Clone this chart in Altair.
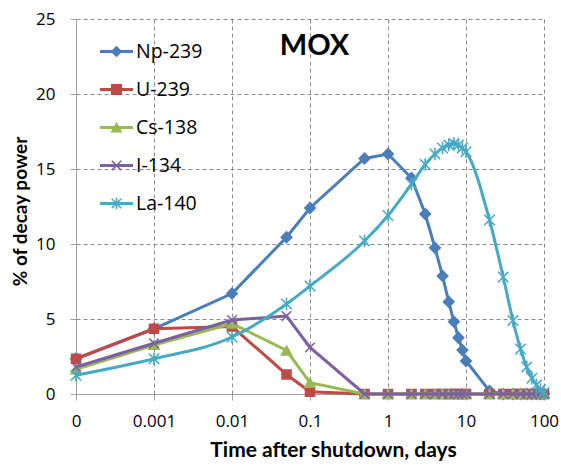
import altair as alt
import pandas as pd

# Time after shutdown (days); "0" is drawn at the left end of the log axis
TIMES = [0, 0.001, 0.01, 0.05, 0.1, 0.5, 1, 2, 3, 4, 5, 6, 7, 8, 9, 10,
         20, 30, 40, 50, 60, 70, 80, 90, 100]

NP239 = [2.35, 4.35, 6.7, 10.45, 12.4, 15.7, 16.0, 14.4, 12.0, 9.75, 7.87, 6.15,
         4.82, 3.75, 2.93, 2.2, 0.2, 0, 0, 0, 0, 0, 0, 0, 0]
U239 = [2.35, 4.35, 4.5, 1.3, 0.15, 0, 0, 0, 0, 0, 0, 0, 0, 0, 0, 0,
        0, 0, 0, 0, 0, 0, 0, 0, 0]
CS138 = [1.65, 3.27, 4.7, 2.9, 0.75, 0, 0, 0, 0, 0, 0, 0, 0, 0, 0, 0,
         0, 0, 0, 0, 0, 0, 0, 0, 0]
I134 = [1.8, 3.38, 4.93, 5.2, 3.1, 0, 0, 0, 0, 0, 0, 0, 0, 0, 0, 0,
        0, 0, 0, 0, 0, 0, 0, 0, 0]
LA140 = [1.25, 2.35, 3.8, 6.0, 7.2, 10.2, 11.9, 14.0, 15.3, 16.0, 16.4, 16.6,
         16.7, 16.6, 16.4, 16.15, 11.6, 7.8, 4.9, 3.0, 1.8, 1.05, 0.6, 0.3, 0.1]

SERIES = ["Np-239", "U-239", "Cs-138", "I-134", "La-140"]
VALUES = [NP239, U239, CS138, I134, LA140]
COLORS = ["#4A7EBB", "#BE4B48", "#98B954", "#7D60A0", "#46AAC5"]
SHAPES = ["diamond", "square", "triangle-up",
          "M-1,-1L1,1M-1,1L1,-1",
          "M-1,-1L1,1M-1,1L1,-1M0,-1.2L0,1.2"]
SIZES = [110, 80, 100, 90, 110]
INTERP = ["linear", "linear", "linear", "linear", "monotone"]

X_TICKS = [0.0001, 0.001, 0.01, 0.1, 1, 10, 100]
Y_TICKS = [0, 5, 10, 15, 20, 25]

FONT = "Open Sans"
TFONT = "Lato"

rows = []
for name, vals in zip(SERIES, VALUES):
    for t, v in zip(TIMES, vals):
        rows.append({"series": name, "t": t, "v": v})
df = pd.DataFrame(rows)

base = alt.Chart(df).transform_calculate(
    tp="max(datum.t, 0.0001)"
)

xenc = alt.X(
    "tp:Q",
    scale=alt.Scale(type="log", domain=[0.0001, 100], nice=False),
    axis=alt.Axis(
        values=X_TICKS,
        labelExpr="datum.value <= 0.0001 ? '0' : toString(datum.value)",
        title="Time after shutdown, days",
        grid=True,
        gridDash=[4, 3],
        gridColor="#8c8c8c",
        domainColor="#a0a0a0",
        tickColor="#a0a0a0",
        tickSize=6,
        labelFontSize=17,
        labelFont=FONT,
        labelColor="#000000",
        labelPadding=13.5,
        labelFlush=False,
        titleFontSize=21,
        titleFont=TFONT,
        titleFontWeight="bold",
        titleColor="#000000",
        titlePadding=9.5,
        titleX=257,
        titleAlign="center",
    ),
)
yenc = alt.Y(
    "v:Q",
    scale=alt.Scale(domain=[0, 25], nice=False),
    axis=alt.Axis(
        values=Y_TICKS,
        title="% of decay power",
        grid=True,
        gridDash=[4, 3],
        gridColor="#8c8c8c",
        domainColor="#a0a0a0",
        tickColor="#a0a0a0",
        tickSize=6,
        labelFontSize=17,
        labelFont=FONT,
        labelColor="#000000",
        labelPadding=15,
        titleFontSize=19,
        titleFont=TFONT,
        titleFontWeight="bold",
        titleColor="#000000",
        titlePadding=5,
        titleY=192,
        titleAlign="center",
    ),
)

layers = []
for name, col, shp, sz, ip in zip(SERIES, COLORS, SHAPES, SIZES, INTERP):
    sub = base.transform_filter(alt.datum.series == name)
    line = sub.mark_line(color=col, strokeWidth=3, interpolate=ip).encode(
        x=xenc, y=yenc
    )
    pts = sub.mark_point(
        shape=shp, size=sz, filled=True, fill=col, stroke=col,
        strokeWidth=1.6, opacity=1
    ).encode(x=xenc, y=yenc)
    layers += [line, pts]

# legend
leg_df = pd.DataFrame({"series": SERIES, "idx": list(range(len(SERIES)))})
leg = alt.Chart(leg_df).transform_calculate(ly="32.5 + 38 * datum.idx")
col_scale = alt.Scale(domain=SERIES, range=COLORS)
leg_line = leg.mark_rule(strokeWidth=3).encode(
    x=alt.value(24), x2=alt.value(57),
    y=alt.Y("ly:Q", scale=None),
    color=alt.Color("series:N", scale=col_scale, legend=None),
)
leg_pts = leg.mark_point(filled=True, strokeWidth=1.6, size=90, opacity=1).encode(
    x=alt.value(40.5),
    y=alt.Y("ly:Q", scale=None),
    fill=alt.Fill("series:N", scale=col_scale, legend=None),
    stroke=alt.Stroke("series:N", scale=col_scale, legend=None),
    shape=alt.Shape("series:N", scale=alt.Scale(domain=SERIES, range=SHAPES), legend=None),
)
leg_txt = leg.mark_text(align="left", baseline="middle", fontSize=19.5, font=FONT,
                        color="#000000").encode(
    x=alt.value(60),
    y=alt.Y("ly:Q", scale=None),
    text="series:N",
)

title = alt.Chart(pd.DataFrame({"t": ["MOX"]})).mark_text(
    fontSize=29, font=TFONT, fontWeight="bold", color="#000000",
    align="center", baseline="middle"
).encode(x=alt.value(238.5), y=alt.value(27), text="t:N")

chart = alt.layer(*layers, leg_line, leg_pts, leg_txt, title).properties(
    width=468, height=375,
    autosize=alt.AutoSizeParams(type="none"),
    padding={"left": 76, "top": 19, "right": 17, "bottom": 71},
    background="#ffffff",
).configure_view(stroke=None)

chart.save("out.html", embed_options={"renderer": "svg", "actions": False})
